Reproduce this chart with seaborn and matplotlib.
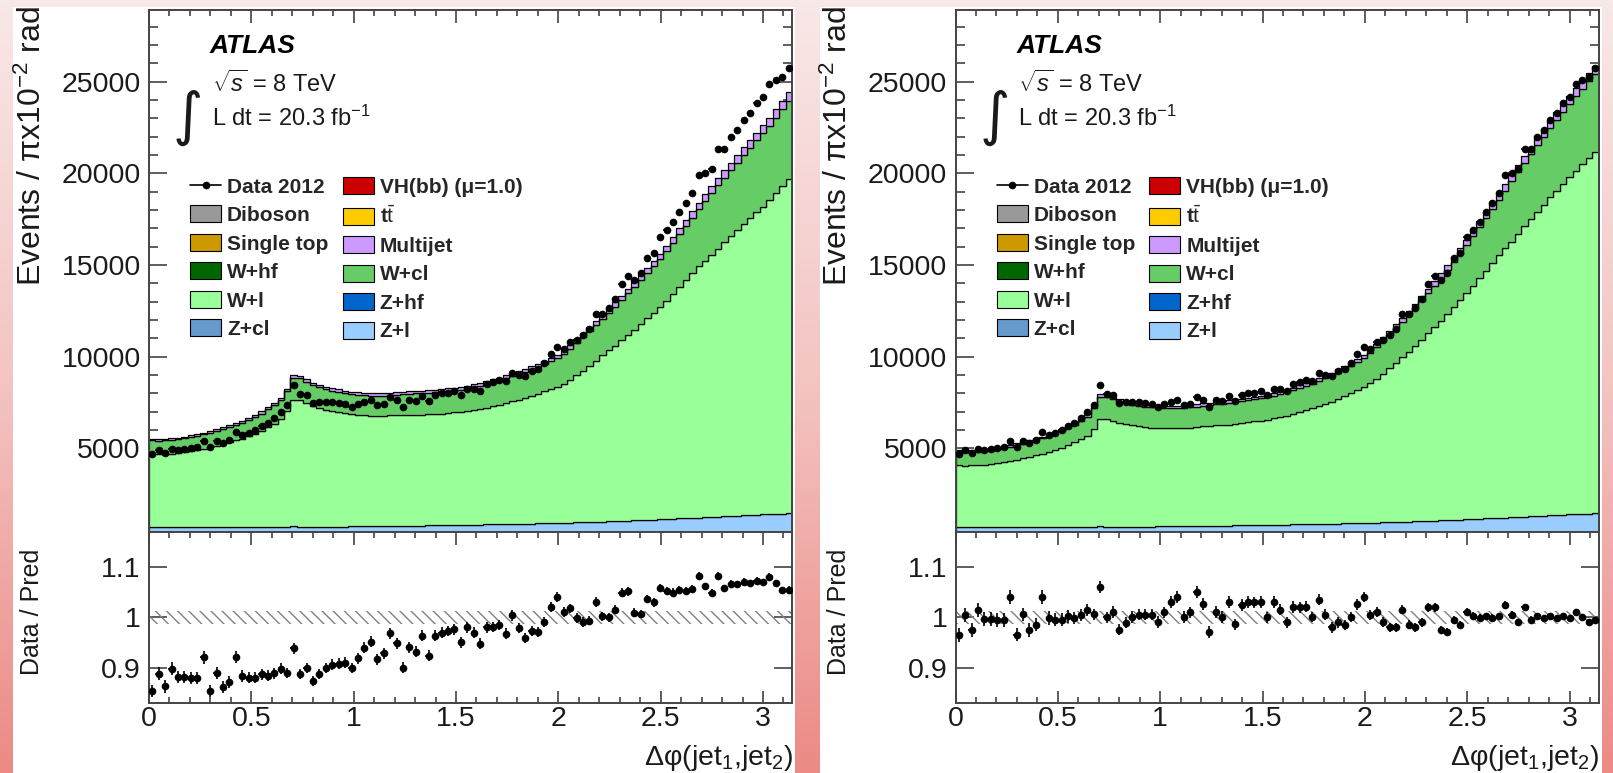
import numpy as np
import pandas as pd
import matplotlib
matplotlib.use("Agg")
import matplotlib.pyplot as plt
from matplotlib.patches import Patch, Rectangle
from matplotlib.lines import Line2D
from matplotlib.colors import LinearSegmentedColormap
from matplotlib.ticker import MultipleLocator, FixedLocator, FuncFormatter, NullLocator
import seaborn as sns

# ---------------------------------------------------------------- data
n_bins = 100
x_max = np.pi

data_2012 = [4710, 4890, 4760, 4970, 4920, 4970, 5020, 5080, 5390, 5080,
             5380, 5300, 5460, 5870, 5740, 5850, 6000, 6210, 6390, 6630,
             6950, 7340, 8430, 7950, 7880, 7490, 7510, 7520, 7500, 7450,
             7410, 7270, 7390, 7530, 7610, 7340, 7440, 7780, 7640, 7270,
             7610, 7570, 7840, 7550, 7900, 7990, 8040, 8110, 7930, 8250,
             8220, 8120, 8480, 8590, 8720, 8680, 9120, 9010, 8940, 9200,
             9330, 9670, 10130, 10510, 10420, 10810, 10930, 11160, 11520, 12300,
             12310, 12630, 13160, 13970, 14400, 14190, 14540, 15360, 15660, 16530,
             16900, 17330, 17900, 18350, 18920, 19890, 20010, 20220, 21340, 21310,
             21950, 22350, 22900, 23280, 23820, 24180, 24890, 25060, 25220, 25740]

z_light = [680, 680, 680, 685, 685, 685, 690, 690, 690, 690,
           690, 695, 695, 695, 700, 700, 700, 705, 705, 710,
           710, 715, 735, 730, 730, 730, 730, 730, 730, 730,
           730, 735, 740, 740, 745, 750, 755, 760, 760, 765,
           770, 775, 780, 790, 795, 800, 805, 810, 820, 825,
           830, 840, 845, 850, 855, 860, 870, 875, 885, 890,
           900, 910, 920, 930, 940, 950, 960, 970, 980, 990,
           1000, 1015, 1030, 1040, 1055, 1070, 1080, 1095, 1110, 1125,
           1140, 1155, 1170, 1190, 1205, 1220, 1235, 1250, 1270, 1285,
           1300, 1320, 1335, 1355, 1370, 1390, 1405, 1420, 1440, 1460]

multijet = [90, 90, 90, 90, 90, 90, 90, 90, 95, 95,
            95, 100, 100, 100, 105, 105, 110, 110, 115, 120,
            125, 130, 145, 145, 140, 140, 135, 135, 135, 135,
            135, 130, 130, 130, 130, 130, 135, 135, 135, 135,
            135, 135, 135, 140, 140, 140, 140, 140, 145, 145,
            145, 150, 150, 150, 155, 155, 160, 160, 165, 165,
            170, 175, 180, 180, 185, 195, 200, 205, 210, 220,
            225, 230, 240, 245, 255, 260, 270, 280, 285, 295,
            305, 310, 320, 330, 340, 350, 360, 370, 375, 385,
            395, 405, 410, 420, 430, 435, 445, 450, 460, 465]

w_cl = [730, 730, 730, 735, 740, 750, 760, 765, 775, 790,
        805, 815, 830, 845, 865, 880, 905, 930, 960, 990,
        1030, 1095, 1190, 1190, 1170, 1150, 1140, 1130, 1120, 1110,
        1105, 1100, 1100, 1095, 1100, 1100, 1105, 1110, 1120, 1125,
        1130, 1175, 1180, 1185, 1195, 1205, 1210, 1220, 1230, 1240,
        1255, 1270, 1290, 1305, 1325, 1345, 1365, 1390, 1415, 1440,
        1470, 1500, 1530, 1565, 1605, 1710, 1765, 1820, 1880, 1940,
        2000, 2060, 2125, 2190, 2260, 2330, 2400, 2470, 2545, 2620,
        2700, 2780, 2860, 2940, 3020, 3105, 3285, 3370, 3450, 3535,
        3615, 3695, 3770, 3850, 3920, 3995, 4065, 4135, 4205, 4270]

# W+light before (left panel) and after (right panel) the correction
w_light_left = [4015, 4005, 4015, 4025, 4065, 4115, 4165, 4230, 4295, 4370,
                4455, 4535, 4635, 4735, 4825, 4960, 5100, 5260, 5450, 5635,
                5875, 6310, 6915, 6885, 6715, 6560, 6455, 6370, 6295, 6230,
                6175, 6120, 6075, 6050, 6025, 6025, 6015, 6030, 6040, 6055,
                6060, 6040, 6045, 6060, 6070, 6095, 6110, 6140, 6150, 6205,
                6250, 6310, 6370, 6455, 6520, 6610, 6690, 6780, 6865, 6970,
                7070, 7185, 7300, 7435, 7590, 7770, 8015, 8270, 8530, 8790,
                9065, 9320, 9570, 9850, 10125, 10400, 10690, 10985, 11275, 11580,
                11910, 12275, 12635, 12995, 13355, 13715, 13975, 14310, 14620, 14945,
                15265, 15565, 15890, 16190, 16495, 16785, 17115, 17480, 17835, 18210]

w_light_right = [3380, 3370, 3380, 3390, 3425, 3465, 3510, 3565, 3620, 3685,
                 3760, 3830, 3915, 4000, 4080, 4195, 4315, 4455, 4620, 4780,
                 4985, 5360, 5880, 5885, 5760, 5660, 5585, 5525, 5475, 5435,
                 5400, 5375, 5350, 5345, 5345, 5360, 5375, 5405, 5435, 5465,
                 5495, 5485, 5515, 5545, 5580, 5615, 5655, 5700, 5735, 5800,
                 5870, 5940, 6025, 6120, 6210, 6315, 6420, 6540, 6660, 6800,
                 6935, 7085, 7250, 7435, 7640, 7845, 8115, 8395, 8680, 8970,
                 9275, 9585, 9895, 10225, 10550, 10890, 11240, 11595, 11960, 12330,
                 12715, 13115, 13520, 13920, 14325, 14725, 15030, 15430, 15825, 16215,
                 16600, 16970, 17345, 17695, 18050, 18390, 18725, 19055, 19365, 19675]

mc_stat_unc = 0.013

stack_order = ["Multijet", "W+cl", "W+l", "Z+l"]          # top -> bottom
process_colors = {
    "VH(bb) (μ=1.0)": "#cc0000",
    "Diboson": "#999999",
    "tt": "#ffcc00",
    "Single top": "#cc9900",
    "Multijet": "#cc99ff",
    "W+hf": "#006600",
    "W+cl": "#66cc66",
    "W+l": "#99ff99",
    "Z+hf": "#0066cc",
    "Z+cl": "#6699cc",
    "Z+l": "#99ccff",
}
legend_col1 = ["Diboson", "Single top", "W+hf", "W+l", "Z+cl"]
legend_col2 = ["VH(bb) (μ=1.0)", "tt", "Multijet", "W+cl", "Z+hf", "Z+l"]
legend_text = {"tt": r"t$\bar{\rm t}$"}

ylabel_main = r"Events / πx10$^{-2}$ rad"
ylabel_ratio = "Data / Pred"
xlabel = r"Δφ(jet$_{1}$,jet$_{2}$)"

# ---------------------------------------------------------------- style
sns.set_style("ticks")
plt.rcParams.update({
    "font.family": ["Liberation Sans", "DejaVu Sans"],
    "mathtext.fontset": "custom",
    "mathtext.rm": "Liberation Sans",
    "mathtext.it": "Liberation Sans:italic",
    "mathtext.bf": "Liberation Sans:bold",
    "mathtext.sf": "Liberation Sans",
    "hatch.linewidth": 1.0,
    "axes.unicode_minus": False,
})

W, H = 1613, 773
def fx(px):
    return px / W
def fy(py):
    return 1 - py / H

fig = plt.figure(figsize=(W / 100, H / 100), dpi=100)

# background gradient
bg = fig.add_axes([0, 0, 1, 1], zorder=-10)
cmap = LinearSegmentedColormap.from_list("bg", ["#f9e8e8", "#f3c4c2", "#ec8a85"])
bg.imshow(np.linspace(0, 1, 256)[:, None], aspect="auto", cmap=cmap,
          extent=[0, 1, 0, 1], origin="upper")
bg.axis("off")

edges = np.linspace(0, x_max, n_bins + 1)
centers = 0.5 * (edges[:-1] + edges[1:])
half_w = 0.5 * (edges[1] - edges[0])
data_arr = np.array(data_2012, dtype=float)

tick_color = "#333333"
label_color = "#1a1a1a"


def style_axes(ax):
    ax.tick_params(which="both", direction="in", top=True, right=True,
                   colors=tick_color, width=1.1, labelsize=20.5,
                   labelcolor=label_color)
    ax.tick_params(axis="y", which="major", length=13, pad=6)
    ax.tick_params(axis="y", which="minor", length=6.5)
    ax.tick_params(axis="x", which="major", length=9, pad=6)
    ax.tick_params(axis="x", which="minor", length=4.5)
    for sp in ax.spines.values():
        sp.set_linewidth(1.4)
        sp.set_color("#444444")


def draw_panel(dx, w_light):
    # white card
    fig.add_artist(Rectangle((fx(13 + dx), 0), fx(782), fy(7), transform=fig.transFigure,
                             facecolor="white", edgecolor="none", zorder=-5))
    x0 = fx(149 + dx)
    wd = fx(643)
    ax = fig.add_axes([x0, fy(531.5), wd, fy(10) - fy(531.5)])
    axr = fig.add_axes([x0, fy(703), wd, fy(531.5) - fy(703)])

    comps = {"Multijet": multijet, "W+cl": w_cl, "W+l": w_light, "Z+l": z_light}
    df = pd.DataFrame({
        "dphi": np.concatenate([centers for _ in stack_order]),
        "events": np.concatenate([np.asarray(comps[p], float) for p in stack_order]),
        "process": np.repeat(stack_order, n_bins),
    })
    sns.histplot(data=df, x="dphi", weights="events", hue="process",
                 hue_order=stack_order, multiple="stack", bins=n_bins,
                 binrange=(0, x_max),
                 element="step", palette=process_colors, alpha=1,
                 edgecolor="black", linewidth=0.9, legend=False, ax=ax)
    total = sum(np.asarray(comps[p], float) for p in stack_order)

    ax.errorbar(centers, data_arr, xerr=half_w, yerr=np.sqrt(data_arr), fmt="o",
                color="black", ms=4.5, elinewidth=1.1, capsize=0, zorder=6)
    ax.set_xlim(0, x_max)
    ax.set_ylim(460, 28900)
    ax.set_xlabel("")
    ax.set_ylabel("")
    ax.xaxis.set_major_locator(MultipleLocator(0.5))
    ax.xaxis.set_minor_locator(MultipleLocator(0.1))
    ax.yaxis.set_major_locator(MultipleLocator(5000))
    ax.yaxis.set_minor_locator(MultipleLocator(1000))
    style_axes(ax)
    ax.tick_params(labelbottom=False)

    # ratio
    ratio = data_arr / total
    rerr = np.sqrt(data_arr) / total
    axr.axhspan(1 - mc_stat_unc, 1 + mc_stat_unc, facecolor="none",
                edgecolor="#808080", hatch="\\\\\\", linewidth=0, zorder=1)
    axr.errorbar(centers, ratio, xerr=half_w, yerr=rerr, fmt="o", color="black",
                 ms=4.5, elinewidth=1.2, capsize=0, zorder=5)
    axr.set_xlim(0, x_max)
    axr.set_ylim(0.83, 1.17)
    axr.xaxis.set_major_locator(MultipleLocator(0.5))
    axr.xaxis.set_minor_locator(MultipleLocator(0.1))
    axr.yaxis.set_major_locator(FixedLocator([0.9, 1.0, 1.1]))
    axr.yaxis.set_minor_locator(NullLocator())
    fmt = FuncFormatter(lambda v, p: f"{v:g}")
    axr.xaxis.set_major_formatter(fmt)
    axr.yaxis.set_major_formatter(fmt)
    style_axes(axr)
    axr.tick_params(axis="x", which="major", pad=2)

    # titles
    fig.text(fx(32 + dx), fy(6), ylabel_main, rotation=90, ha="center", va="top",
             fontsize=23, color=label_color)
    fig.text(fx(32 + dx), fy(612), ylabel_ratio, rotation=90, ha="center",
             va="center", fontsize=18, color=label_color)
    fig.text(fx(793 + dx), fy(758), xlabel, ha="right", va="center",
             fontsize=20.5, color=label_color)

    # ATLAS labels
    fig.text(fx(210 + dx), fy(46), "ATLAS", ha="left", va="center", fontsize=19,
             fontweight="bold", fontstyle="italic", color="black")
    fig.text(fx(212 + dx), fy(84), r"$\sqrt{s}$ = 8 TeV", ha="left", va="center",
             fontsize=17, color=label_color)
    fig.text(fx(212 + dx), fy(118), r"L dt = 20.3 fb$^{-1}$", ha="left",
             va="center", fontsize=17, color=label_color)
    fig.text(fx(188 + dx), fy(118), "∫", ha="center", va="center", fontsize=42,
             family="DejaVu Sans", color=label_color)

    # legend
    handles = [Line2D([0], [0], color="black", marker="o", ms=4.5, lw=1.2)]
    labels = ["Data 2012"]
    for name in legend_col1 + legend_col2:
        handles.append(Patch(facecolor=process_colors[name], edgecolor="black",
                             linewidth=0.8))
        labels.append(legend_text.get(name, name))
    ax.legend(handles, labels, ncol=2, loc="upper left",
              bbox_to_anchor=(fx(190 + dx), fy(177)), bbox_transform=fig.transFigure,
              frameon=False, prop={"size": 15, "weight": "bold"},
              handlelength=1.49, handleheight=0.88, handletextpad=0.29,
              labelspacing=0.42, columnspacing=0.68, borderpad=0, borderaxespad=0)


draw_panel(0, w_light_left)
draw_panel(806.5, w_light_right)

fig.savefig("out.png", dpi=100)
